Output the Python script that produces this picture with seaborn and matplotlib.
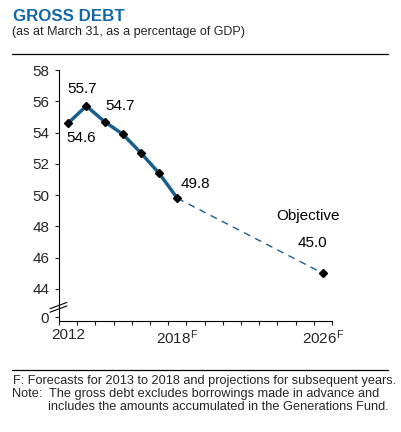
import matplotlib
matplotlib.use("Agg")
import matplotlib.pyplot as plt
import seaborn as sns
import pandas as pd

# data
years = [2012, 2013, 2014, 2015, 2016, 2017, 2018]
debt = [54.6, 55.7, 54.7, 53.9, 52.7, 51.4, 49.8]
proj_years = [2018, 2026]
proj_debt = [49.8, 45.0]

ytick_vals = [42.2, 44, 46, 48, 50, 52, 54, 56, 58]
ytick_labels = ["0", "44", "46", "48", "50", "52", "54", "56", "58"]
xtick_vals = [2012, 2018, 2026]
xtick_labels = ["2012", "2018$^F$", "2026$^F$"]

# value labels: (year, value, text, dx, dy) offsets in points
labels = [
    (2012, 54.6, "54.6", 9.1, -13.4),
    (2013, 55.7, "55.7", -2.9, 9.4),
    (2014, 54.7, "54.7", 11.0, 8.5),
    (2018, 49.8, "49.8", 12.7, 7.7),
    (2026, 45.0, "45.0", -7.8, 18.7),
    (2026, 45.0, "Objective", -10.8, 38.2),
]

sns.set_style("ticks")
plt.rcParams['font.family'] = ['Liberation Sans', 'DejaVu Sans']
plt.rcParams['mathtext.default'] = 'regular'

line_col = "#1a5e8c"
title_col = "#1268a4"

df = pd.DataFrame({"year": years, "debt": debt})
dfp = pd.DataFrame({"year": proj_years, "debt": proj_debt})

fig = plt.figure(figsize=(4.02, 4.32), dpi=100)
ax = fig.add_axes([59/402, 1-321/432, 273/402, 251/432])

sns.lineplot(data=dfp, x="year", y="debt", ax=ax, color=line_col, lw=1.0,
             linestyle=(0, (5, 4)), zorder=2)
sns.lineplot(data=df, x="year", y="debt", ax=ax, color=line_col, lw=2.5, zorder=3)
ax.plot(years + proj_years[1:], debt + proj_debt[1:], ls="none", marker="D",
        ms=4, color="black", zorder=4)

for yr, val, txt, dx, dy in labels:
    ax.annotate(txt, xy=(yr, val), xytext=(dx, dy), textcoords="offset points",
                ha="center", va="baseline", fontsize=11, color="black")

ax.set_xlim(2011.5, 2026.5)
ax.set_ylim(41.95, 58)
ax.set_xticks(xtick_vals)
ax.set_xticklabels(xtick_labels, fontsize=11)
ax.set_xticks([2011.5 + k for k in range(16)], minor=True)
ax.tick_params(axis="x", which="major", length=0, pad=5)
ax.tick_params(axis="x", which="minor", length=2.6, width=0.8, direction="out")
ax.set_yticks(ytick_vals)
ax.set_yticklabels(ytick_labels, fontsize=11)
ax.tick_params(axis="y", length=3, width=0.8, pad=4)
ax.set_xlabel("")
ax.set_ylabel("")
sns.despine(ax=ax)
for s in ["left", "bottom"]:
    ax.spines[s].set_linewidth(0.8)
    ax.spines[s].set_color("black")

# axis break marks
for off in [0.0, 0.014]:
    ax.plot([-0.033, 0.029], [0.035 + off, 0.06 + off], transform=ax.transAxes,
            color="black", lw=0.8, clip_on=False)

# header and footnotes
fig.text(13/402, 1-21/432, "GROSS DEBT", fontsize=12.2, fontweight="bold",
         color=title_col, va="baseline")
fig.text(12/402, 1-35/432, "(as at March 31, as a percentage of GDP)",
         fontsize=9, va="baseline")
fig.add_artist(plt.Line2D([12/402, 388/402], [1-54/432, 1-54/432], color="black", lw=0.9))
fig.add_artist(plt.Line2D([12/402, 388/402], [1-370/432, 1-370/432], color="black", lw=0.9))
fig.text(13/402, 1-384/432,
         "F: Forecasts for 2013 to 2018 and projections for subsequent years.",
         fontsize=9.2, va="baseline")
fig.text(12/402, 1-397/432, "Note:", fontsize=9.2, va="baseline")
fig.text(49/402, 1-397/432, "The gross debt excludes borrowings made in advance and",
         fontsize=9.2, va="baseline")
fig.text(48/402, 1-410/432, "includes the amounts accumulated in the Generations Fund.",
         fontsize=9.2, va="baseline")

fig.savefig("out.png", dpi=100)
